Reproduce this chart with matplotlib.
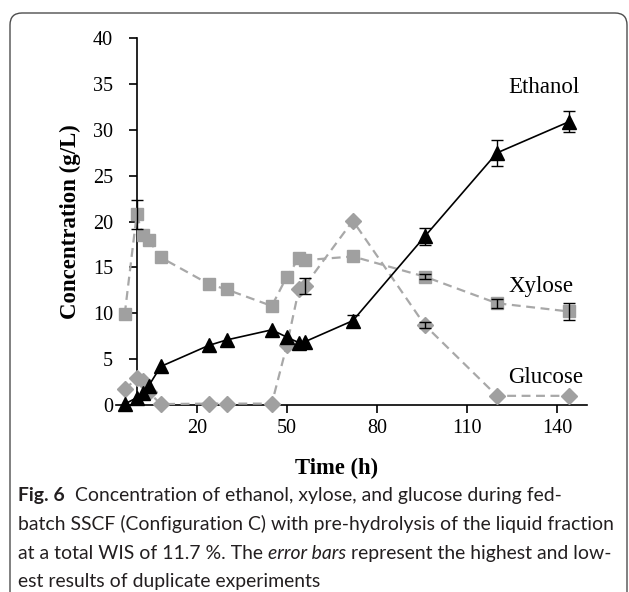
import matplotlib
matplotlib.use("Agg")
import matplotlib.pyplot as plt
from matplotlib.patches import FancyBboxPatch
from matplotlib.transforms import IdentityTransform
import numpy as np

# ---- data ----
time = [-4, 0, 2, 4, 8, 24, 30, 45, 50, 54, 56, 72, 96, 120, 144]
ethanol = [0.1, 0.8, 1.3, 2.1, 4.2, 6.5, 7.1, 8.2, 7.4, 6.8, 6.9, 9.2, 18.4, 27.5, 30.9]
xylose = [9.9, 20.8, 18.5, 18.0, 16.1, 13.2, 12.6, 10.8, 14.0, 16.0, 15.8, 16.2, 14.0, 11.1, 10.2]
glucose = [1.7, 2.9, 2.6, 1.4, 0.1, 0.15, 0.15, 0.15, 6.5, 12.6, 13.0, 20.1, 8.7, 1.0, 1.0]
ethanol_err = [0, 0, 0, 0, 0, 0, 0, 0, 0, 0, 0, 0.6, 0.9, 1.4, 1.15]
xylose_err = [0, 1.6, 0, 0, 0, 0, 0, 0, 0, 0, 0, 0, 0.3, 0.5, 0.9]
glucose_err = [0, 0, 0, 0, 0, 0, 0, 0, 0, 0, 0.9, 0, 0.3, 0, 0]
x_ticks = [20, 50, 80, 110, 140]
y_ticks = [0, 5, 10, 15, 20, 25, 30, 35, 40]
series_labels = ["Ethanol", "Xylose", "Glucose"]

W, H = 629, 592
fig = plt.figure(figsize=(W / 100, H / 100), dpi=100)
fig.patch.set_facecolor("white")

def px(x0, y0, x1, y1):
    return [x0 / W, 1 - y1 / H, (x1 - x0) / W, (y1 - y0) / H]

ax = fig.add_axes(px(106.7, 38.3, 587, 405))
ax.set_xlim(-10, 150)
ax.set_ylim(0, 40)

serif = "Liberation Serif"
gray = "#a0a0a0"

t = np.array(time)

def draw(vals, errs, marker, ms, color, ls, lw, z):
    v = np.array(vals)
    e = np.array(errs)
    ax.plot(t, v, linestyle=ls, color="#a8a8a8", lw=lw,
            marker=marker, ms=ms, mfc=color, mec=color, clip_on=False, zorder=z,
            dashes=(4, 2.5))
    m = e > 0
    ax.errorbar(t[m], v[m], yerr=e[m], fmt="none", ecolor="black", elinewidth=1.0,
                capsize=4, capthick=1.0, zorder=z + 0.5, clip_on=False)

draw(glucose, glucose_err, "D", 8.5, gray, "--", 1.6, 3)
draw(xylose, xylose_err, "s", 9.3, gray, "--", 1.6, 4)
ax.plot(t, ethanol, "-", color="black", lw=1.2, marker="^", ms=10, mfc="black",
        mec="black", clip_on=False, zorder=6)
e = np.array(ethanol_err); v = np.array(ethanol); m = e > 0
ax.errorbar(t[m], v[m], yerr=e[m], fmt="none", ecolor="black", elinewidth=1.0,
            capsize=4, capthick=1.0, zorder=6.5, clip_on=False)

for s in ["top", "right"]:
    ax.spines[s].set_visible(False)
ax.spines["left"].set_position(("data", 0))
ax.spines["bottom"].set_bounds(-7, 150)
for s in ["left", "bottom"]:
    ax.spines[s].set_linewidth(1.2)
    ax.spines[s].set_color("black")

ax.set_xticks(x_ticks)
ax.set_yticks(y_ticks)
ax.set_xticklabels([str(v) for v in x_ticks], fontfamily=serif, fontsize=14.5)
ax.set_yticklabels([str(v) for v in y_ticks], fontfamily=serif, fontsize=14.5)
ax.tick_params(axis="both", direction="out", length=6, width=1.2, color="black")
ax.tick_params(axis="x", pad=4)
ax.tick_params(axis="y", pad=11)

ax.text(123.8, 34.0, series_labels[0], family=serif, fontsize=16.5, ha="left", va="baseline")
ax.text(123.8, 12.3, series_labels[1], family=serif, fontsize=16.5, ha="left", va="baseline")
ax.text(123.8, 2.4, series_labels[2], family=serif, fontsize=16.5, ha="left", va="baseline")

fig.text(70 / W, 1 - 222 / H, "Concentration (g/L)", family=serif, fontweight="bold",
         fontsize=16.5, rotation=90, ha="center", va="center")
fig.text(337 / W, 1 - 468 / H, "Time (h)", family=serif, fontweight="bold",
         fontsize=16.3, ha="center", va="center")

# border box (rounded top corners)
box = FancyBboxPatch((10, -40), 617, 579 + 40, boxstyle="round,pad=0,rounding_size=12",
                     transform=IdentityTransform(), fill=False, ec="#4d4d4d", lw=1.0)
fig.patches.append(box)

# caption
cap_font = "Lato"
cap_size = 13.0
cap_color = "#231f20"
lines = [
    [("Fig. 6", "bold", "normal"), ("  Concentration of ethanol, xylose, and glucose during fed-", "normal", "normal")],
    [("batch SSCF (Configuration C) with pre-hydrolysis of the liquid fraction", "normal", "normal")],
    [("at a total WIS of 11.7 %. The ", "normal", "normal"), ("error bars", "normal", "italic"),
     (" represent the highest and low-", "normal", "normal")],
    [("est results of duplicate experiments", "normal", "normal")],
]
baselines = [501, 530, 559, 587]

fig.canvas.draw()
renderer = fig.canvas.get_renderer()
probe = fig.text(0, 0, lines[1][0][0], family=cap_font, fontsize=cap_size)
wpx = probe.get_window_extent(renderer).width
probe.remove()
cap_size = cap_size * (592.0 / wpx)

for segs, bl in zip(lines, baselines):
    x = 18.0
    for txt, wt, st in segs:
        tt = fig.text(x / W, 1 - bl / H, txt, family=cap_font, fontsize=cap_size,
                      fontweight=wt, fontstyle=st, color=cap_color, ha="left", va="baseline")
        x += tt.get_window_extent(renderer).width

fig.savefig("out.png", dpi=100)
